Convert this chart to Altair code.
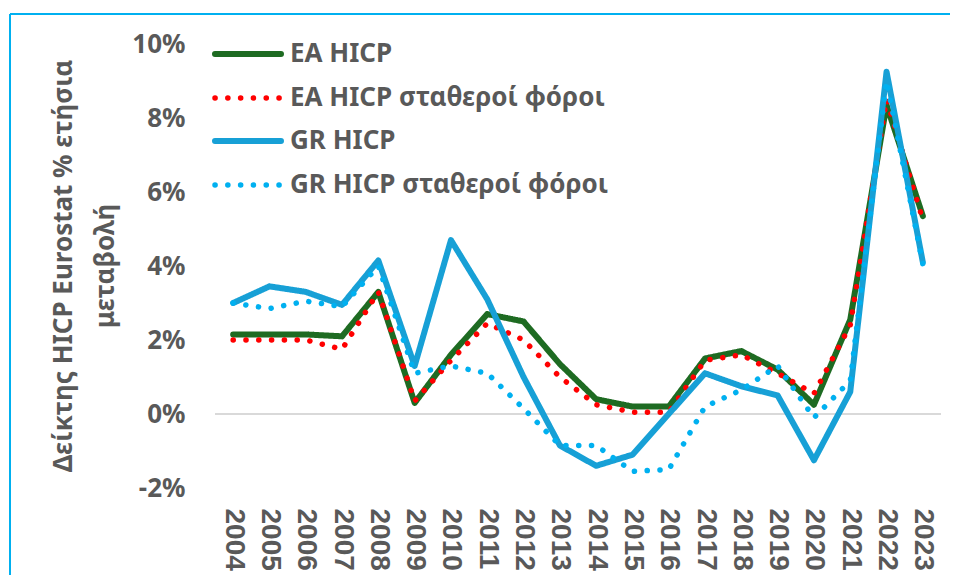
import altair as alt
import pandas as pd

years = [str(y) for y in range(2004, 2024)]
series = ["EA HICP", "EA HICP σταθεροί φόροι", "GR HICP", "GR HICP σταθεροί φόροι"]
ea_hicp = [2.15, 2.15, 2.15, 2.1, 3.3, 0.3, 1.6, 2.7, 2.5, 1.35, 0.4, 0.2, 0.2, 1.5, 1.7, 1.2, 0.25, 2.55, 8.35, 5.35]
ea_const = [2.0, 2.0, 2.0, 1.75, 3.3, 0.35, 1.45, 2.45, 2.0, 1.0, 0.25, 0.05, 0.05, 1.45, 1.6, 1.1, 0.55, 2.4, 8.5, 5.25]
gr_hicp = [3.0, 3.45, 3.3, 2.95, 4.15, 1.3, 4.7, 3.1, 1.0, -0.85, -1.4, -1.1, 0.0, 1.1, 0.75, 0.5, -1.25, 0.6, 9.25, 4.1]
gr_const = [3.0, 2.85, 3.05, 2.9, 4.0, 1.1, 1.3, 1.1, 0.15, -0.85, -0.85, -1.55, -1.5, 0.2, 0.65, 1.3, -0.1, 0.9, 9.0, 4.05]
y_ticks = [-2, 0, 2, 4, 6, 8, 10]
y_title = ["Δείκτης HICP Eurostat % ετήσια", "μεταβολή"]

colors = ["#1E6B22", "#FF0000", "#17A0D6", "#00B0F0"]
dashes = [[1, 0], [0.1, 12.7], [1, 0], [0.1, 12.7]]
widths = [6, 5.5, 6, 5.5]
text_color = "#595959"

rows = []
for name, vals in zip(series, [ea_hicp, ea_const, gr_hicp, gr_const]):
    for yr, v in zip(years, vals):
        rows.append({"year": yr, "value": v, "series": name})
df = pd.DataFrame(rows)

x_enc = alt.X(
    "year:O",
    scale=alt.Scale(type="point", padding=0.5, domain=years),
    axis=alt.Axis(
        title=None, labelAngle=90, domain=False, ticks=False, labelPadding=20,
        labelFont="Liberation Sans", labelFontSize=28, labelFontWeight="bold",
        labelColor=text_color, labelAlign="left", labelBaseline="middle",
    ),
)
y_enc = alt.Y(
    "value:Q",
    scale=alt.Scale(domain=[-2, 10], nice=False, zero=False),
    axis=alt.Axis(
        title=None, values=y_ticks, labelExpr="datum.value + '%'", grid=False,
        domain=False, ticks=False, labelPadding=30, labelFont="Noto Sans",
        labelFontSize=26, labelFontWeight="bold", labelColor=text_color,
    ),
)

zero_rule = alt.Chart(pd.DataFrame({"z": [0]})).mark_rule(
    color="#D9D9D9", strokeWidth=2
).encode(y=alt.Y("z:Q"))

layers = [zero_rule]
for i, name in enumerate(series):
    layers.append(
        alt.Chart(df).transform_filter(alt.datum.series == name).mark_line(
            color=colors[i], strokeWidth=widths[i], strokeDash=dashes[i],
            strokeCap="round", strokeJoin="round",
        ).encode(x=x_enc, y=y_enc)
    )

# legend (manual)
leg_y = [10, 54, 97, 141]
for i, name in enumerate(series):
    one = pd.DataFrame({"series": [name]})
    layers.append(
        alt.Chart(one).mark_rule(
            color=colors[i], strokeWidth=widths[i], strokeDash=dashes[i], strokeCap="round"
        ).encode(x=alt.value(0), x2=alt.value(66), y=alt.value(leg_y[i]))
    )
    layers.append(
        alt.Chart(one).mark_text(
            align="left", baseline="middle", font="Noto Sans", fontSize=26,
            fontWeight="bold", color=text_color,
        ).encode(text="series:N", x=alt.value(75), y=alt.value(leg_y[i]))
    )

title_layer = alt.Chart(pd.DataFrame({"t": [0]})).mark_text(
    text=y_title, angle=270, align="center", baseline="middle", font="Noto Sans",
    fontSize=26, fontWeight="bold", color=text_color, lineHeight=42,
).encode(x=alt.value(-151), y=alt.value(222))
layers.append(title_layer)

border_top = alt.Chart(pd.DataFrame({"t": [0]})).mark_rule(color="#00B0F0", strokeWidth=2).encode(
    x=alt.value(-205), x2=alt.value(745), y=alt.value(-30)
)
border_left = alt.Chart(pd.DataFrame({"t": [0]})).mark_rule(color="#00B0F0", strokeWidth=2).encode(
    x=alt.value(-205), y=alt.value(-30), y2=alt.value(545)
)
layers += [border_top, border_left]

chart = alt.layer(*layers).properties(
    width=726, height=444,
    autosize=alt.AutoSizeParams(type="none"),
    padding={"left": 207, "top": 36, "right": 9, "bottom": 87},
    background="white",
).configure_view(stroke=None)

chart.save("out.html", embed_options={"renderer": "svg", "actions": False})
